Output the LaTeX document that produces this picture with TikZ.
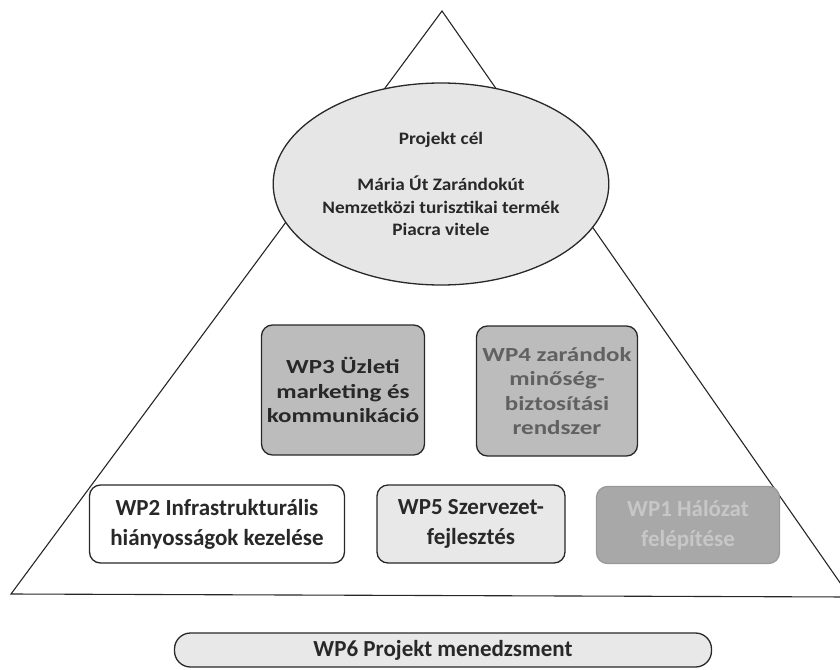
\documentclass[tikz,border=0pt]{standalone}
\usepackage{fontspec}
\setmainfont{Carlito}
\newfontfamily\widefont[FakeStretch=1.25]{Carlito}
\newfontfamily\goalfont[FakeStretch=1.1]{Carlito}
\usepackage{xcolor}
\usepackage{tikz}
\usetikzlibrary{shapes.geometric, positioning}
\definecolor{goalgray}{RGB}{230,230,230}
\definecolor{midgray}{RGB}{188,188,188}
\definecolor{palegray}{RGB}{232,232,232}
\definecolor{darkbox}{RGB}{168,168,168}
\definecolor{inkgray}{RGB}{40,40,40}

\begin{document}
\begin{tikzpicture}[x=1pt, y=-1pt,
	wpbox/.style={draw=inkgray, line width=1.3pt, rounded corners=11pt, align=center, inner sep=2pt, text=inkgray},
	bigtext/.style={font=\bfseries\fontsize{23}{30}\selectfont},
	midtext/.style={font=\widefont\bfseries\fontsize{20}{24.5}\selectfont}]
	\useasboundingbox (0,0) rectangle (840,669);
	
	% pyramid
	\draw[line width=1.1pt, black!85] (442,11) -- (850,597) -- (11,594) -- cycle;
	
	\node[ellipse, draw=inkgray, line width=1.3pt, fill=goalgray, minimum width=294pt, minimum height=202pt, inner sep=0pt, align=center, text=inkgray, font=\goalfont\bfseries\fontsize{17.5}{22.5}\selectfont] (goal) at (441,184)
		{Projekt cél\\[24pt] Mária Út Zarándokút\\ Nemzetközi turisztikai termék\\ Piacra vitele};
	
	\node[wpbox, midtext, fill=midgray, minimum width=163pt, minimum height=130pt] (wpthree) at (343,390)
		{WP3 Üzleti\\ marketing és\\ kommunikáció};
	\node[wpbox, midtext, fill=midgray, text=black!62, minimum width=161pt, minimum height=130pt] (wpfour) at (557,391)
		{WP4 zarándok\\ minőség-\\ biztosítási\\ rendszer};
	
	\node[wpbox, bigtext, fill=white, minimum width=255pt, minimum height=78pt] (wptwo) at (217,524)
		{WP2 Infrastrukturális\\ hiányosságok kezelése};
	\node[wpbox, bigtext, fill=palegray, minimum width=188pt, minimum height=78pt] (wpfive) at (471,524)
		{WP5 Szervezet-\\ fejlesztés};
	\node[wpbox, bigtext, draw=black!40, fill=darkbox, text=black!22, minimum width=183pt, minimum height=77pt] (wpone) at (688,525)
		{WP1 Hálózat\\ felépítése};
	
	\node[wpbox, bigtext, fill=palegray, rounded corners=16pt, minimum width=537pt, minimum height=34pt] (wpsix) at (443,650)
		{WP6 Projekt menedzsment};
\end{tikzpicture}
\end{document}
